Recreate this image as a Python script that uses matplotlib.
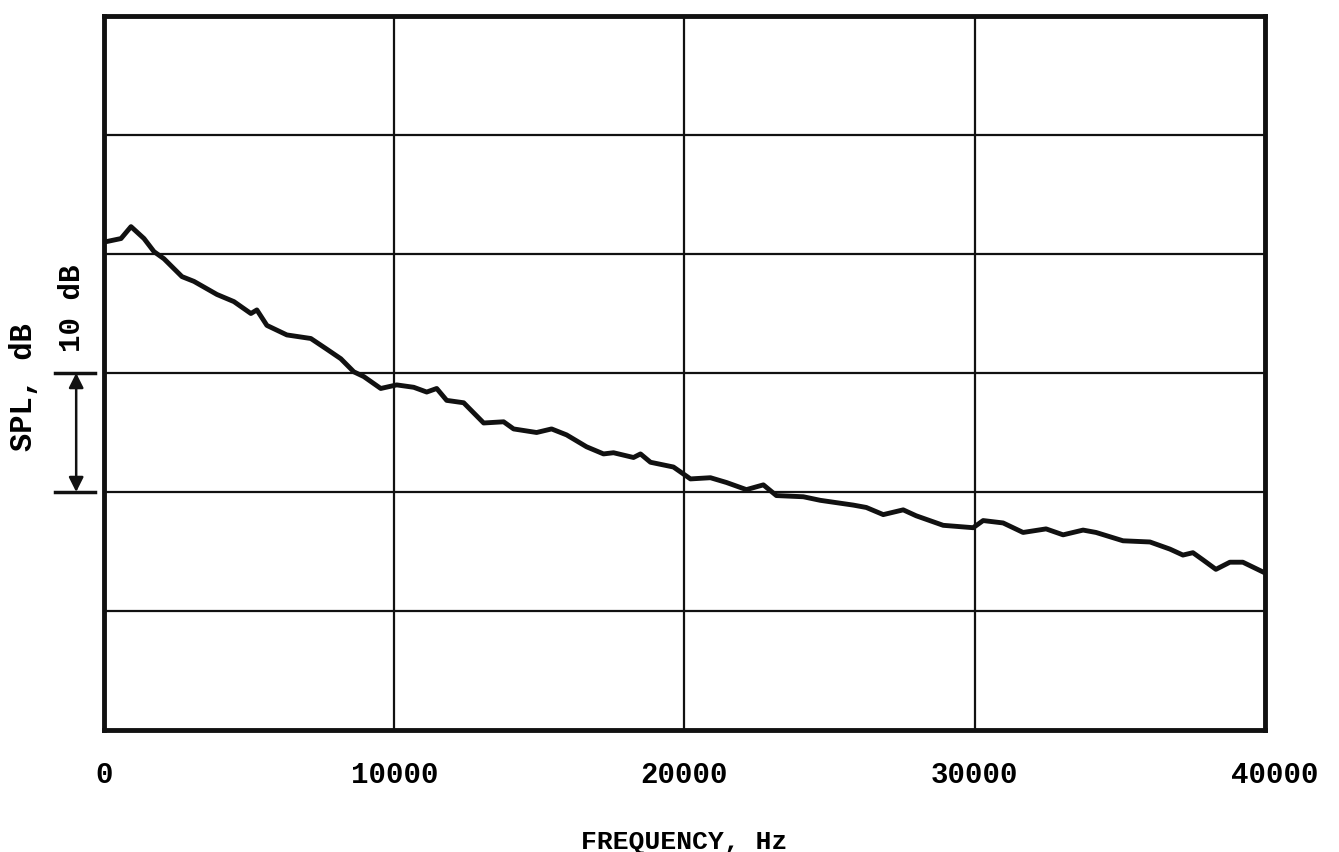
import matplotlib.pyplot as plt
from matplotlib.transforms import ScaledTranslation

# spectrum trace (Hz, dB relative to bottom of chart)
freq = [0, 585, 929, 1377, 1721, 2065, 2685, 3098, 3890, 4475, 5060, 5266,
        5611, 6299, 7125, 7676, 8158, 8606, 8950, 9534, 10085, 10670, 11118,
        11462, 11806, 12391, 13080, 13768, 14112, 14904, 15420, 15937, 16625,
        17210, 17554, 18243, 18484, 18828, 19619, 20206, 20894, 21445, 22133,
        22718, 23166, 24095, 24680, 25815, 26264, 26848, 27536, 27984, 28913,
        29945, 30290, 30978, 31666, 32458, 33045, 33733, 34180, 35110, 36038,
        36727, 37174, 37518, 37862, 38310, 38792, 39239, 40000]
spl = [41.0, 41.3, 42.3, 41.3, 40.2, 39.6, 38.1, 37.7, 36.6, 36.0, 35.0, 35.3,
       34.0, 33.2, 32.9, 32.0, 31.2, 30.1, 29.7, 28.7, 29.0, 28.8, 28.4,
       28.7, 27.7, 27.5, 25.8, 25.9, 25.3, 25.0, 25.3, 24.8, 23.8,
       23.2, 23.3, 22.9, 23.2, 22.5, 22.1, 21.1, 21.2, 20.8, 20.2,
       20.6, 19.7, 19.6, 19.3, 18.9, 18.7, 18.1, 18.5, 18.0, 17.2,
       17.0, 17.6, 17.4, 16.6, 16.9, 16.4, 16.8, 16.6, 15.9, 15.8,
       15.2, 14.7, 14.9, 14.3, 13.5, 14.1, 14.1, 13.2]

xticks = [0, 10000, 20000, 30000, 40000]
xtick_labels = ['0', '10000', '20000', '30000', '40000']
ygrid = [10, 20, 30, 40, 50]

font = 'Liberation Mono'

fig = plt.figure(figsize=(13.39, 8.52), dpi=100)
ax = fig.add_axes([0.0777, 0.1432, 0.867, 0.838])

ax.plot(freq, spl, color='#111111', lw=3.5, solid_joinstyle='round')

ax.set_xlim(0, 40000)
ax.set_ylim(0, 60)
ax.set_xticks(xticks)
ax.set_xticklabels(xtick_labels, fontfamily=font, fontweight='bold', fontsize=21)
ax.set_yticks(ygrid)
ax.set_yticklabels([])
ax.tick_params(length=0, pad=22)
ax.grid(True, color='#111111', lw=1.6)

for s in ax.spines.values():
    s.set_linewidth(3.5)
    s.set_color('#111111')

# last tick label sits a bit right of the frame in the original
lbl = ax.get_xticklabels()[-1]
lbl.set_transform(lbl.get_transform() + ScaledTranslation(0.1, 0, fig.dpi_scale_trans))

# 10 dB scale bracket left of the frame
for yy in (20, 30):
    ax.plot([-1700, -300], [yy, yy], color='#111111', lw=2.5, clip_on=False)
ax.annotate('', xy=(-960, 30), xytext=(-960, 20), annotation_clip=False,
            arrowprops=dict(arrowstyle='<|-|>', color='#111111', lw=1.8,
                            mutation_scale=22, shrinkA=0, shrinkB=0))
ax.text(-1100, 35.4, '10 dB', rotation=90, ha='center', va='center',
        fontfamily=font, fontweight='bold', fontsize=21, clip_on=False)

fig.text(24 / 1339, 1 - 387 / 852, 'SPL, dB', rotation=90, ha='center', va='center',
         fontfamily=font, fontweight='bold', fontsize=22)
ax.set_xlabel('FREQUENCY, Hz', fontfamily=font, fontweight='bold', fontsize=19,
              labelpad=30)

fig.savefig('out.png', dpi=100)
